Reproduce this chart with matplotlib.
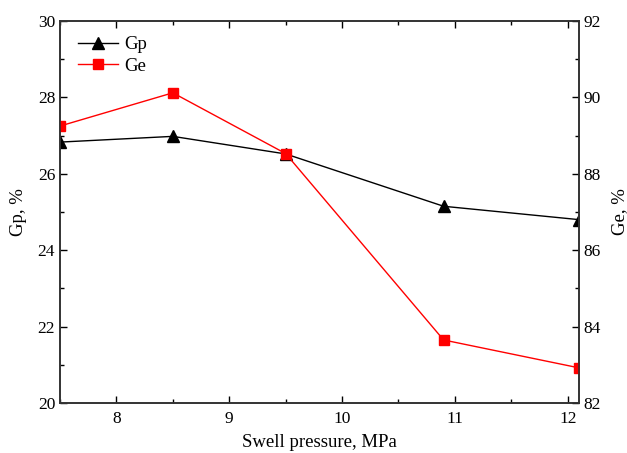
import matplotlib.pyplot as plt
from matplotlib.ticker import MultipleLocator

plt.rcParams['font.family'] = ['Liberation Serif', 'DejaVu Serif']

pressure = [7.5, 8.5, 9.5, 10.9, 12.1]
gp = [26.83, 26.98, 26.52, 25.15, 24.80]
ge = [89.25, 90.12, 88.53, 83.65, 82.92]

fig = plt.figure(figsize=(6.27, 4.53), dpi=100)
ax = fig.add_axes([60 / 627, 50 / 453, 519 / 627, 382 / 453])
ax2 = ax.twinx()

l1, = ax.plot(pressure, gp, color='black', marker='^', markersize=8, lw=1, label='Gp')
l2, = ax2.plot(pressure, ge, color='red', marker='s', markersize=7, lw=1, label='Ge')

ax.set_xlim(7.5, 12.1)
ax.set_ylim(20, 30)
ax2.set_ylim(82, 92)
ax.xaxis.set_major_locator(MultipleLocator(1))
ax.xaxis.set_minor_locator(MultipleLocator(0.5))
ax.yaxis.set_major_locator(MultipleLocator(2))
ax.yaxis.set_minor_locator(MultipleLocator(1))
ax2.yaxis.set_major_locator(MultipleLocator(2))
ax2.yaxis.set_minor_locator(MultipleLocator(1))

ax.tick_params(which='both', direction='in', top=True, labelsize=12.5, width=1)
ax.tick_params(which='major', length=5)
ax.tick_params(which='minor', length=3)
ax.tick_params(axis='x', pad=6)
ax2.tick_params(which='both', direction='in', labelsize=12.5, width=1)
ax2.tick_params(which='major', length=5)
ax2.tick_params(which='minor', length=3)
for a in (ax, ax2):
    for s in a.spines.values():
        s.set_linewidth(1.2)
        s.set_color('#333333')

ax.set_xlabel('Swell pressure, MPa', fontsize=13.5, labelpad=5)
ax.set_ylabel('Gp, %', fontsize=13.5, labelpad=8)
ax2.set_ylabel('Ge, %', fontsize=13.5, labelpad=7)

ax.legend([l1, l2], ['Gp', 'Ge'], loc='upper left', frameon=False, fontsize=13.5,
          handlelength=2.15, handletextpad=0.3, bbox_to_anchor=(0.006, 1.0),
          borderaxespad=0.4, labelspacing=0.25)

fig.savefig('out.png', dpi=100)
